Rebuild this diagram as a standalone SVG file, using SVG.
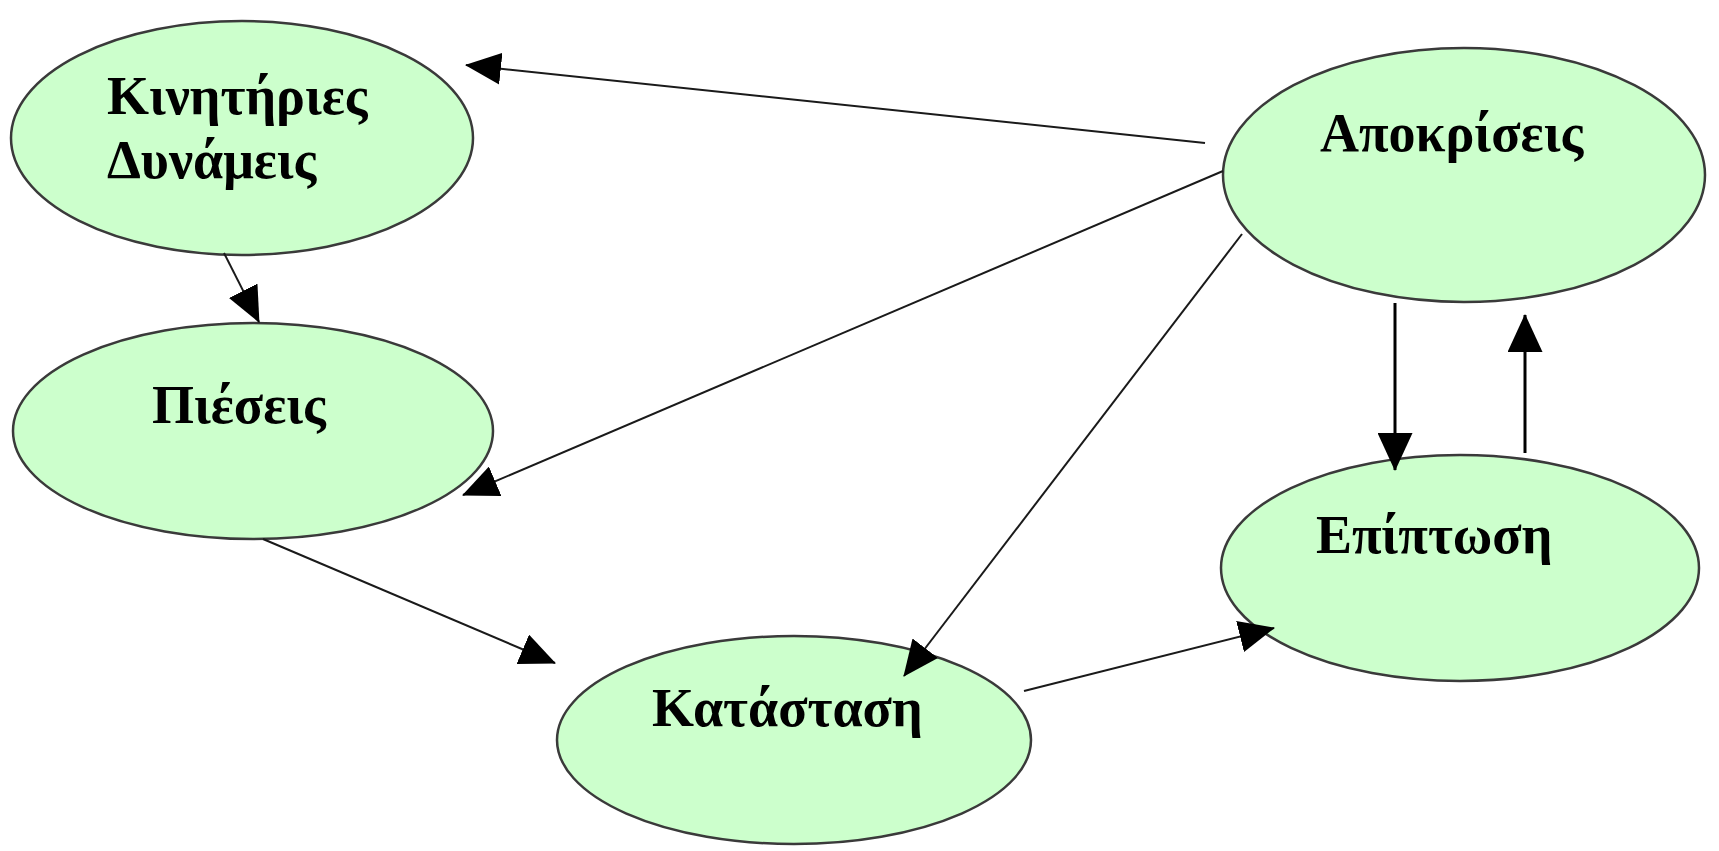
<svg xmlns="http://www.w3.org/2000/svg" width="1719" height="851" viewBox="0 0 1719 851">
<style>
.node ellipse{fill:#ccffcc;stroke:#3a3a3a;stroke-width:2.5}
.node text{font-family:"Liberation Serif","Times New Roman",serif;font-weight:bold;font-size:54px;fill:#000}
.edge{stroke:#1a1a1a;stroke-width:2;fill:none}
.edge.thick{stroke:#000;stroke-width:3}
</style>
<defs>
<marker id="ah" markerUnits="userSpaceOnUse" markerWidth="36" markerHeight="32" viewBox="0 0 36 32" refX="35" refY="16" orient="auto"><path d="M0,0 L36,16 L0,32 z" fill="#000"/></marker>
<marker id="ah2" markerUnits="userSpaceOnUse" markerWidth="38" markerHeight="35" viewBox="0 0 38 35" refX="37" refY="17.5" orient="auto"><path d="M0,0 L38,17.5 L0,35 z" fill="#000"/></marker>
</defs>
<rect width="1719" height="851" fill="#fff"/>
<g id="nodes">
<g id="kinitiries" class="node">
<ellipse cx="242" cy="138" rx="231" ry="117"/>
<text x="107" y="114">Κινητήριες</text>
<text x="107" y="178">Δυνάμεις</text>
</g>
<g id="pieseis" class="node">
<ellipse cx="253" cy="431" rx="240" ry="108"/>
<text x="152" y="423">Πιέσεις</text>
</g>
<g id="katastasi" class="node">
<ellipse cx="794" cy="740" rx="237" ry="104"/>
<text x="652" y="726">Κατάσταση</text>
</g>
<g id="apokriseis" class="node">
<ellipse cx="1464" cy="175" rx="241" ry="127"/>
<text x="1320" y="151">Αποκρίσεις</text>
</g>
<g id="epiptosi" class="node">
<ellipse cx="1460" cy="568" rx="239" ry="113"/>
<text x="1316" y="553">Επίπτωση</text>
</g>
</g>
<g id="connectors">
<line class="edge" x1="1205" y1="143" x2="466" y2="65" marker-end="url(#ah)"/>
<line class="edge" x1="1223" y1="171" x2="463" y2="495" marker-end="url(#ah)"/>
<line class="edge" x1="1242" y1="234" x2="904" y2="676" marker-end="url(#ah)"/>
<line class="edge" x1="224" y1="253" x2="259" y2="322" marker-end="url(#ah)"/>
<line class="edge" x1="263" y1="539" x2="555" y2="663" marker-end="url(#ah)"/>
<line class="edge" x1="1024" y1="691" x2="1274" y2="628" marker-end="url(#ah)"/>
<line class="edge thick" x1="1395" y1="303" x2="1395" y2="470" marker-end="url(#ah2)"/>
<line class="edge thick" x1="1525" y1="453" x2="1525" y2="315" marker-end="url(#ah2)"/>
</g>
</svg>
